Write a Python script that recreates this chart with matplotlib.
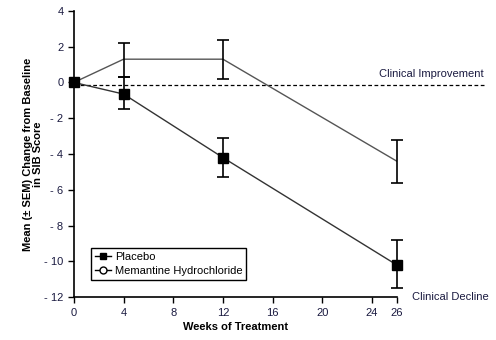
import matplotlib
matplotlib.use("Agg")
from matplotlib import pyplot as plt
from matplotlib.lines import Line2D

weeks = [0, 4, 12, 26]
placebo = [0, -0.65, -4.2, -10.2]
placebo_lo = [0, -1.5, -5.3, -11.5]
placebo_hi = [0, 0.3, -3.1, -8.8]
memantine = [0, 1.3, 1.3, -4.4]
memantine_lo = [0, 0.3, 0.2, -5.6]
memantine_hi = [0, 2.2, 2.4, -3.2]

xticks = [0, 4, 8, 12, 16, 20, 24, 26]
yticks = [4, 2, 0, -2, -4, -6, -8, -10, -12]
ylabels = ["4", "2", "0", "- 2", "- 4", "- 6", "- 8", "- 10", "- 12"]

plt.rcParams['font.family'] = ['Liberation Sans Narrow', 'Liberation Sans', 'DejaVu Sans']
plt.rcParams['font.size'] = 8

fig = plt.figure(figsize=(4.96, 3.4), dpi=100)
ax = fig.add_axes([0.149, 0.126, 0.651, 0.842])

# data lines
ax.plot(weeks, memantine, color="#555555", lw=1, zorder=2)
ax.plot(weeks, placebo, color="#333333", lw=1, zorder=2)
ax.plot(weeks, placebo, "s", color="black", ms=7, zorder=4, clip_on=False)

# error bars
def errbars(y, lo, hi):
    yerr = [[v - l for v, l in zip(y, lo)], [h - v for v, h in zip(y, hi)]]
    eb = ax.errorbar(weeks[1:], y[1:], yerr=[yerr[0][1:], yerr[1][1:]], fmt="none",
                     ecolor="black", elinewidth=1.2, capsize=4, capthick=1.2, zorder=3)
    for art in eb.lines[1] + eb.lines[2]:
        art.set_clip_on(False)

errbars(memantine, memantine_lo, memantine_hi)
errbars(placebo, placebo_lo, placebo_hi)

# baseline reference line
ax.plot([0, 33], [-0.15, -0.15], "k--", lw=0.9, dashes=(3, 2), clip_on=False, zorder=1)
ax.text(33, 0.2, "Clinical Improvement", ha="right", va="bottom", fontsize=8, color="#1a1a40")
ax.text(27.2, -12, "Clinical Decline", ha="left", va="center", fontsize=8, color="#1a1a40")

ax.set_xlim(0, 26)
ax.set_ylim(-12, 4)
ax.set_xticks(xticks)
ax.set_yticks(yticks)
ax.set_yticklabels(ylabels)
ax.tick_params(direction="out", length=4, width=1, labelsize=8, labelcolor="#1a1a40")
for s in ["top", "right"]:
    ax.spines[s].set_visible(False)
for s in ["left", "bottom"]:
    ax.spines[s].set_linewidth(1.2)

ax.set_xlabel("Weeks of Treatment", fontweight="bold", fontsize=8, labelpad=3)
ax.set_ylabel("Mean (\u00b1 SEM) Change from Baseline\nin SIB Score", fontweight="bold",
              fontsize=8, linespacing=1.0)
ax.yaxis.set_label_coords(-0.096, 0.5)

handles = [Line2D([], [], color="black", lw=1, marker="s", ms=5),
           Line2D([], [], color="black", lw=1, marker="o", ms=5, mfc="white")]
leg = ax.legend(handles, ["Placebo", "Memantine Hydrochloride"], loc="lower left",
                bbox_to_anchor=(0.035, 0.04), fancybox=False, edgecolor="black",
                framealpha=1, handlelength=1.5, handletextpad=0.3, fontsize=8,
                borderpad=0.35, labelspacing=0.35)
leg.get_frame().set_linewidth(1.0)

fig.savefig("out.png", dpi=100)
